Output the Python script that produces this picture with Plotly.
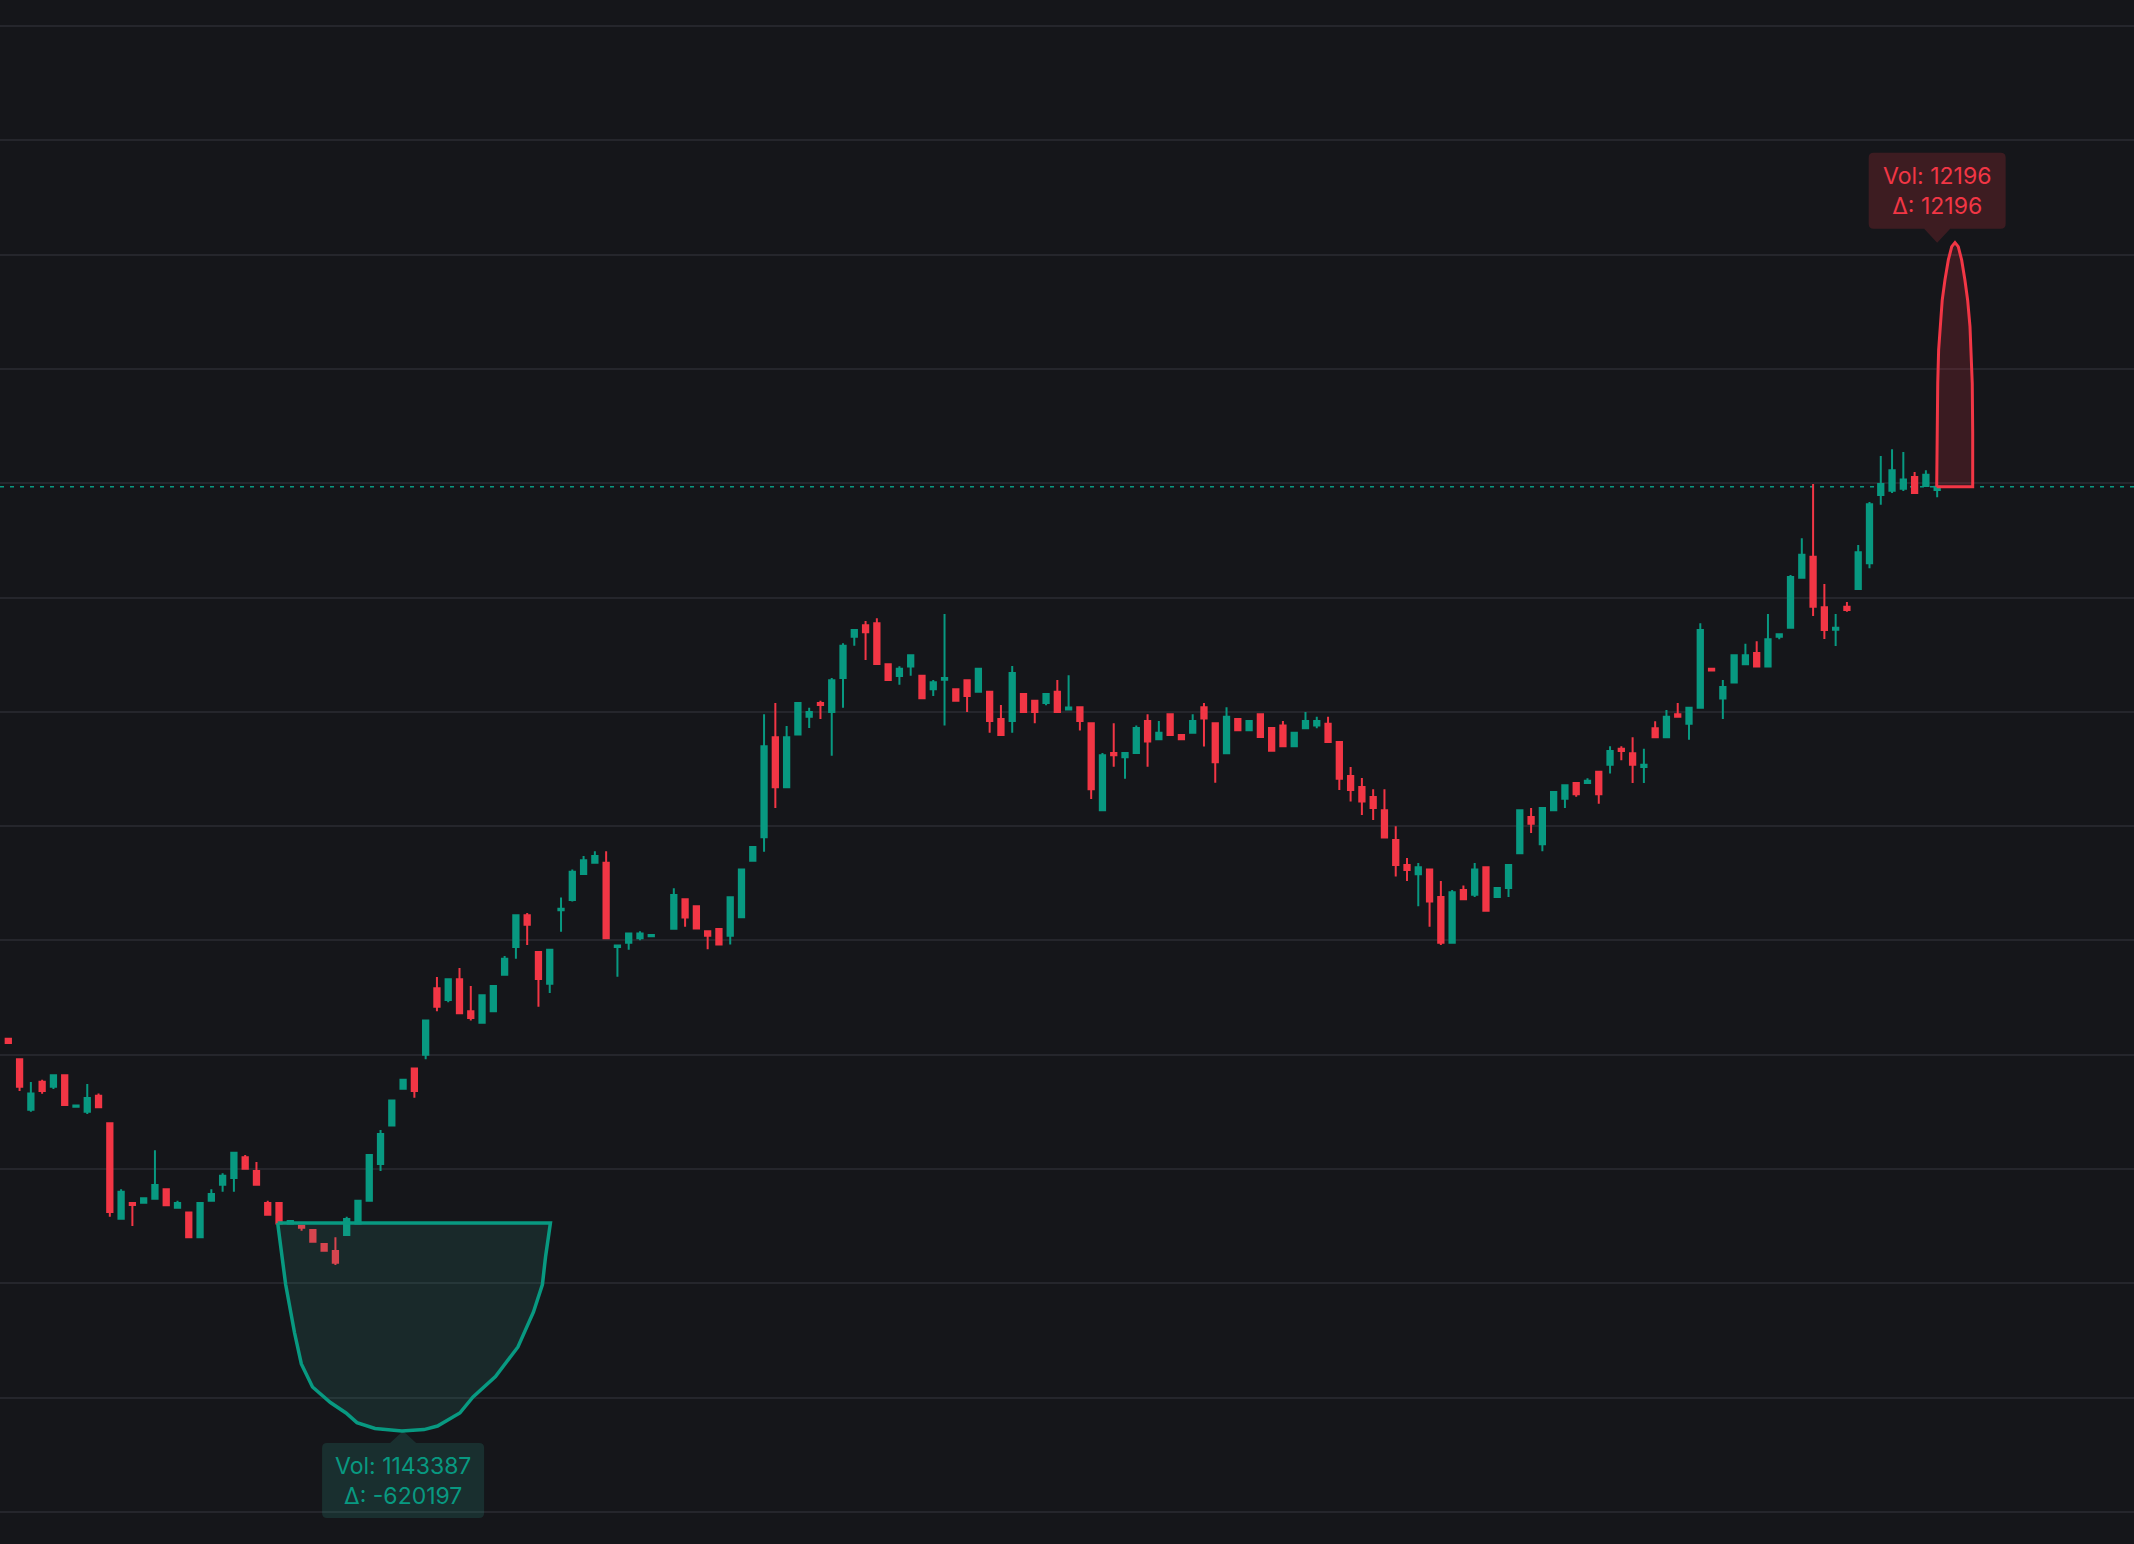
import plotly.graph_objects as go

# ---------------- data ----------------
candle_index = list(range(172))

opens = [
    151.41, 149.60, 145.20, 147.65, 147.21, 148.20, 145.46, 145.02, 146.42, 144.00,
    135.66, 137.03, 137.06, 137.41, 138.23, 136.62, 136.21, 134.03, 137.23, 138.63,
    139.22, 141.03, 139.83, 137.03, 137.03, 135.25, 135.05, 134.67, 133.44, 132.83,
    134.23, 135.25, 137.23, 140.44, 143.82, 147.03, 148.81, 150.01, 155.81, 154.79,
    156.60, 153.80, 152.81, 153.80, 157.01, 159.43, 162.20, 158.99, 156.22, 162.64,
    163.54, 165.82, 166.81, 166.81, 159.43, 159.81, 160.19, 160.37, None, 161.03,
    163.60, 162.99, 160.80, 161.01, 160.42, 162.03, 166.98, 169.03, 177.78, 173.40,
    178.01, 179.58, 180.78, 179.99, 182.97, 186.58, 187.57, 187.75, 184.16, 183.14,
    183.96, 183.17, 181.97, 182.82, 181.97, 182.76, 181.77, 181.77, 179.38, 179.20,
    181.57, 180.98, 180.78, 181.77, 180.20, 180.40, 179.00, 171.39, 176.40, 176.03,
    176.40, 179.20, 177.60, 179.79, 177.98, 178.18, 180.40, 179.00, 176.37, 179.38,
    178.39, 179.79, 178.59, 178.80, 176.99, 178.56, 178.80, 178.97, 177.37, 174.39,
    173.43, 172.56, 171.39, 168.79, 166.61, 165.79, 166.20, 163.81, 159.81, 164.42,
    164.01, 166.41, 163.81, 164.60, 167.63, 170.81, 168.41, 171.39, 172.41, 173.78,
    173.78, 174.77, 175.38, 176.78, 176.38, 175.18, 178.56, 177.78, 179.79, 178.97,
    180.37, 183.78, 181.16, 182.56, 184.16, 185.15, 183.96, 186.58, 187.37, 191.74,
    193.58, 189.15, 187.19, 189.20, 190.75, 193.00, 198.97, 199.35, 199.53, 200.55,
    199.76, 199.41,
]

highs = [
    151.45, 149.60, 147.62, 147.82, 148.20, 148.20, 145.56, 147.44, 146.62, 144.00,
    138.23, 137.03, 137.44, 141.64, 138.23, 137.23, 136.21, 137.03, 138.23, 139.63,
    141.43, 141.23, 140.62, 137.23, 137.03, 135.46, 135.05, 134.67, 133.44, 134.03,
    135.83, 137.23, 141.23, 143.42, 146.00, 147.82, 148.81, 153.01, 156.80, 156.60,
    157.59, 156.02, 155.20, 156.02, 158.64, 162.20, 162.40, 158.99, 159.20, 163.77,
    166.22, 167.39, 167.80, 167.80, 159.57, 160.60, 160.80, 160.47, None, 164.56,
    163.60, 162.99, 160.80, 161.01, 163.78, 166.20, 168.18, 179.79, 180.78, 178.77,
    180.78, 180.37, 180.98, 182.97, 186.00, 187.17, 187.95, 188.19, 184.16, 183.99,
    184.95, 183.17, 182.79, 188.57, 181.97, 182.76, 183.78, 181.77, 180.60, 184.02,
    181.57, 180.98, 181.57, 182.79, 183.20, 180.40, 179.00, 176.40, 179.00, 176.40,
    178.80, 179.79, 179.20, 179.79, 177.98, 179.79, 180.78, 179.00, 180.40, 179.38,
    179.20, 179.79, 178.59, 179.20, 178.18, 179.99, 179.58, 179.58, 177.37, 175.18,
    174.22, 173.23, 173.23, 169.99, 167.22, 166.78, 166.20, 165.21, 164.42, 164.80,
    166.78, 166.41, 164.60, 166.61, 171.39, 171.59, 171.59, 172.99, 173.58, 173.78,
    174.19, 174.77, 176.99, 176.99, 177.78, 176.78, 179.18, 180.17, 180.78, 180.37,
    187.75, 183.78, 182.79, 184.95, 185.97, 186.17, 188.57, 186.79, 191.98, 195.18,
    199.94, 191.19, 188.56, 189.61, 194.60, 198.36, 202.39, 202.97, 202.74, 200.99,
    201.13, 199.70,
]

lows = [
    151.00, 146.83, 145.02, 146.60, 147.00, 145.60, 145.46, 144.82, 145.40, 135.83,
    135.66, 135.02, 137.06, 137.41, 136.83, 136.62, 134.03, 134.03, 137.23, 138.02,
    138.02, 140.03, 138.63, 136.01, 135.25, 135.25, 134.61, 133.65, 132.86, 131.61,
    134.23, 135.25, 137.23, 139.83, 143.82, 147.03, 146.25, 149.60, 153.80, 154.59,
    153.63, 153.01, 152.81, 153.80, 157.01, 158.41, 159.60, 154.21, 155.40, 160.77,
    163.40, 165.82, 166.81, 160.19, 156.83, 159.20, 160.01, 160.37, None, 161.03,
    161.21, 161.04, 159.23, 159.64, 159.64, 162.03, 166.98, 167.77, 171.59, 173.40,
    178.01, 178.59, 179.38, 176.17, 180.37, 185.79, 184.54, 184.19, 182.79, 182.38,
    183.17, 181.19, 181.39, 178.80, 180.98, 179.99, 181.77, 178.18, 177.98, 178.18,
    180.00, 179.00, 180.57, 180.00, 180.20, 178.36, 172.38, 171.39, 175.21, 174.16,
    176.40, 175.21, 177.60, 177.98, 177.60, 178.18, 176.96, 173.81, 176.37, 178.39,
    178.39, 177.80, 176.61, 176.99, 176.99, 178.56, 178.56, 177.37, 173.17, 172.15,
    170.98, 170.54, 169.00, 165.59, 165.21, 162.99, 161.21, 159.61, 159.81, 163.60,
    163.81, 162.61, 163.81, 163.81, 167.63, 169.41, 167.80, 171.39, 171.59, 172.58,
    173.78, 171.97, 174.60, 175.76, 173.78, 173.78, 177.78, 177.78, 179.58, 177.57,
    180.37, 183.61, 179.38, 182.56, 184.16, 183.96, 183.96, 186.35, 187.37, 191.74,
    188.39, 186.37, 185.76, 188.77, 190.75, 192.56, 198.13, 199.15, 199.32, 199.15,
    199.76, 198.78,
]

closes = [
    151.03, 147.21, 146.62, 146.83, 148.20, 145.60, 145.56, 146.22, 145.40, 136.24,
    138.02, 136.85, 137.44, 138.60, 136.83, 137.03, 134.03, 137.03, 137.82, 139.42,
    141.43, 140.03, 138.63, 136.01, 135.25, 135.46, 134.87, 133.65, 132.86, 131.81,
    135.63, 137.23, 141.23, 143.07, 146.00, 147.82, 146.83, 153.01, 154.21, 156.60,
    153.63, 153.22, 155.20, 156.02, 158.41, 162.20, 161.38, 156.63, 159.20, 162.78,
    166.02, 167.01, 167.39, 160.19, 159.57, 160.60, 160.60, 160.47, None, 163.98,
    162.02, 161.04, 160.42, 159.64, 163.78, 166.20, 168.18, 176.99, 173.40, 177.78,
    180.78, 179.99, 180.60, 182.76, 185.79, 187.17, 186.96, 184.19, 182.79, 183.78,
    184.95, 181.19, 182.59, 182.97, 180.98, 181.39, 183.78, 179.20, 177.98, 183.40,
    180.00, 180.00, 181.57, 180.00, 180.38, 179.20, 173.23, 176.20, 176.20, 176.40,
    178.59, 177.40, 178.18, 177.98, 177.60, 179.20, 179.41, 175.59, 179.58, 178.39,
    179.20, 177.80, 176.61, 176.99, 178.18, 179.20, 179.20, 177.37, 174.16, 173.17,
    172.15, 171.59, 169.00, 166.61, 166.17, 166.41, 163.40, 159.81, 164.22, 163.60,
    166.20, 162.61, 164.60, 166.61, 171.39, 170.22, 171.59, 172.99, 173.58, 172.79,
    173.98, 172.79, 176.58, 176.58, 175.38, 175.38, 177.78, 179.58, 179.58, 180.37,
    187.17, 183.61, 182.18, 184.95, 184.95, 183.96, 186.35, 186.79, 191.80, 193.75,
    189.20, 187.16, 187.37, 188.91, 193.96, 198.16, 199.94, 201.13, 200.34, 199.15,
    200.75, 199.70,
]

# volume bubbles (x in candle index units, y in price units)
buy_bubble_x = [23.88, 24.59, 25.38, 25.98, 26.97, 28.56, 29.94, 30.91, 32.51, 34.89,
                36.85, 38.05, 40.03, 41.20, 43.19, 45.18, 46.56, 47.35, 47.63, 48.06, 23.88]
buy_bubble_y = [135.28, 129.90, 125.66, 122.95, 120.94, 119.58, 118.66, 117.82, 117.31, 117.09,
                117.21, 117.52, 118.66, 120.06, 121.85, 124.44, 127.50, 129.90, 132.33, 135.28, 135.28]
buy_bubble_anchor = 35
buy_label = "Vol: 1143387<br>Δ: -620197"

sell_bubble_x = [170.96, 170.99, 171.05, 171.13, 171.25, 171.45, 171.69, 171.99, 172.29, 172.58,
                 172.87, 173.17, 173.46, 173.70, 173.91, 174.02, 174.11, 174.15, 174.15, 170.96]
sell_bubble_y = [199.70, 204.37, 208.75, 211.66, 213.70, 216.04, 217.79, 219.54, 220.70, 221.05,
                 220.70, 219.54, 217.79, 216.04, 213.70, 211.66, 208.75, 204.37, 199.70, 199.70]
sell_bubble_anchor = 171
sell_label = "Vol: 12196<br>Δ: 12196"

# ---------------- style ----------------
BG = "#15161a"
GRID = "#25262c"
UP = "#089981"
DOWN = "#f23645"
FONT = "Inter"

fig = go.Figure()

fig.add_trace(go.Candlestick(
    x=candle_index, open=opens, high=highs, low=lows, close=closes,
    increasing=dict(line=dict(color=UP, width=2), fillcolor=UP),
    decreasing=dict(line=dict(color=DOWN, width=2), fillcolor=DOWN),
    hoverinfo="skip", showlegend=False,
))

fig.add_trace(go.Scatter(
    x=buy_bubble_x, y=buy_bubble_y, mode="lines", fill="toself",
    fillcolor="rgba(48,160,142,0.14)", line=dict(color=UP, width=3.5),
    hoverinfo="skip", showlegend=False,
))
fig.add_trace(go.Scatter(
    x=sell_bubble_x, y=sell_bubble_y, mode="lines", fill="toself",
    fillcolor="rgba(242,54,69,0.17)", line=dict(color=DOWN, width=3),
    hoverinfo="skip", showlegend=False,
))

last_close = closes[-1]
fig.add_shape(type="line", xref="paper", x0=0, x1=1, yref="y", y0=last_close, y1=last_close,
              line=dict(color=UP, width=1.5, dash="4px,6px"), layer="between")


def callout_path(w, top, bottom, tri, r=5):
    """rounded box with a pointer; pixel offsets around the anchor (y up)."""
    hw = w / 2.0
    if top > 0:  # box above anchor
        b, t = bottom, top
        return (f"M {-hw + r},{b} L {-tri},{b} L 0,0 L {tri},{b} L {hw - r},{b} "
                f"Q {hw},{b} {hw},{b + r} L {hw},{t - r} Q {hw},{t} {hw - r},{t} "
                f"L {-hw + r},{t} Q {-hw},{t} {-hw},{t - r} L {-hw},{b + r} Q {-hw},{b} {-hw + r},{b} Z")
    else:  # box below anchor
        t, b = bottom, top
        return (f"M {-hw + r},{t} L {-tri},{t} L 0,0 L {tri},{t} L {hw - r},{t} "
                f"Q {hw},{t} {hw},{t - r} L {hw},{b + r} Q {hw},{b} {hw - r},{b} "
                f"L {-hw + r},{b} Q {-hw},{b} {-hw},{b + r} L {-hw},{t - r} Q {-hw},{t} {-hw + r},{t} Z")


sell_tip_y = max(sell_bubble_y)
buy_tip_y = min(buy_bubble_y)

fig.add_shape(type="path", xref="x", yref="y", xsizemode="pixel", ysizemode="pixel",
              xanchor=sell_bubble_anchor, yanchor=sell_tip_y,
              path=callout_path(137, 90, 14, 13),
              fillcolor="rgba(242,54,69,0.18)", line=dict(width=0), layer="above")
fig.add_shape(type="path", xref="x", yref="y", xsizemode="pixel", ysizemode="pixel",
              xanchor=buy_bubble_anchor, yanchor=buy_tip_y,
              path=callout_path(162, -87, -12, 13),
              fillcolor="rgba(40,160,140,0.19)", line=dict(width=0), layer="above")

fig.add_annotation(x=sell_bubble_anchor, y=sell_tip_y, xref="x", yref="y", text=sell_label,
                   showarrow=False, xanchor="center", yanchor="middle", yshift=52,
                   font=dict(family=FONT, size=23, color=DOWN), align="center")
fig.add_annotation(x=buy_bubble_anchor, y=buy_tip_y, xref="x", yref="y", text=buy_label,
                   showarrow=False, xanchor="center", yanchor="middle", yshift=-50,
                   font=dict(family=FONT, size=23, color=UP), align="center")

fig.update_layout(
    width=2134, height=1544,
    margin=dict(l=0, r=0, t=0, b=0),
    paper_bgcolor=BG, plot_bgcolor=BG,
    showlegend=False, hovermode=False,
    boxgap=0.33, boxgroupgap=0.3,
    xaxis=dict(range=[-0.736, 188.45], showgrid=False, zeroline=False, showticklabels=False,
               showline=False, ticks="", rangeslider=dict(visible=False), fixedrange=True),
    yaxis=dict(range=[107.20, 242.28], showgrid=True, gridcolor=GRID, gridwidth=2,
               tick0=0, dtick=10, zeroline=False, showticklabels=False, showline=False,
               ticks="", fixedrange=True),
    font=dict(family=FONT),
)

fig.write_html(
    "out.html",
    config={"displayModeBar": False},
    post_script="document.body.style.margin='0';document.body.style.background='" + BG + "';"
                "document.documentElement.style.overflow='hidden';",
)
